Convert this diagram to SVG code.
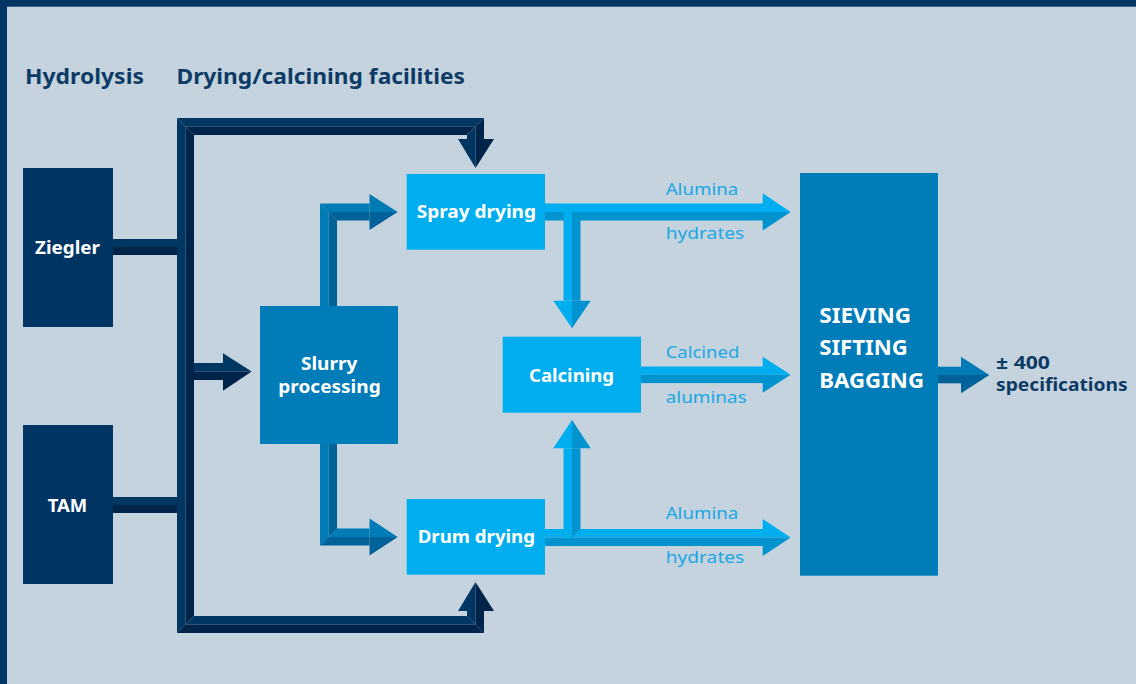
<svg xmlns="http://www.w3.org/2000/svg" width="1136" height="684" viewBox="0 0 1136 684">
<style>
.bg{fill:#c5d3de}
.frame{fill:#003462}
.nl{fill:#003662}.nd{fill:#00234a}
.ml{fill:#007bb6}.md{fill:#006298}
.ll{fill:#00aeef}.ld{fill:#0093cf}
.navy{fill:#003462}.mid{fill:#007cb8}.light{fill:#00aeef}
.title{font-family:"Noto Sans","Open Sans",sans-serif;font-weight:700;font-size:21px;fill:#0d3b66}
.wt{font-family:"Noto Sans","Open Sans",sans-serif;font-weight:700;font-size:18px;fill:#ffffff}
.big{font-family:"Noto Sans","Open Sans",sans-serif;font-weight:700;font-size:22px;fill:#ffffff}
.lbl{font-family:"Noto Sans","Open Sans",sans-serif;font-weight:400;font-size:17px;fill:#1aa8e6}
.out{font-family:"Noto Sans","Open Sans",sans-serif;font-weight:700;font-size:17px;fill:#0d3b66}
</style>
<rect class="bg" x="0" y="0" width="1136" height="684"/>
<rect class="frame" x="0" y="0" width="1136" height="6"/>
<rect x="0" y="6" width="1136" height="1" fill="#3d6285"/>
<rect class="frame" x="0" y="0" width="7" height="684"/>

<g id="headings">
<text class="title" x="25" y="84" textLength="119" lengthAdjust="spacingAndGlyphs">Hydrolysis</text>
<text class="title" x="176.5" y="84" textLength="288.5" lengthAdjust="spacingAndGlyphs">Drying/calcining facilities</text>
</g>

<g id="connectors">
<!-- navy bus -->
<rect class="nl" x="113" y="239" width="64" height="8"/>
<rect class="nd" x="113" y="247" width="64" height="8"/>
<rect class="nl" x="113" y="497" width="64" height="8"/>
<rect class="nd" x="113" y="505" width="64" height="8"/>
<polygon class="nl" points="177,118 484,118 475.5,126.5 185.5,126.5"/>
<polygon class="nd" points="185.5,126.5 475.5,126.5 467,135 194,135"/>
<polygon class="nl" points="177,118 185.5,126.5 185.5,624.5 177,633"/>
<polygon class="nd" points="185.5,126.5 194,135 194,616 185.5,624.5"/>
<polygon class="nl" points="194,616 467,616 475.5,624.5 185.5,624.5"/>
<polygon class="nd" points="185.5,624.5 475.5,624.5 484,633 177,633"/>
<polygon class="nl" points="467,135 475.5,126.5 475.5,139 467,139"/>
<polygon class="nd" points="475.5,126.5 484,118 484,139 475.5,139"/>
<polygon class="nl" points="458,139 475.5,139 475.5,168"/>
<polygon class="nd" points="475.5,139 494,139 475.5,168"/>
<polygon class="nl" points="467,611 475.5,611 475.5,624.5 467,616"/>
<polygon class="nd" points="475.5,611 484,611 484,633 475.5,624.5"/>
<polygon class="nl" points="458,611 475.5,611 475.5,582"/>
<polygon class="nd" points="475.5,611 494,611 475.5,582"/>
<rect class="nl" x="194" y="363" width="29" height="8.5"/>
<rect class="nd" x="194" y="371.5" width="29" height="8.5"/>
<polygon class="nl" points="223,353.3 251.7,371.5 223,371.5"/>
<polygon class="nd" points="223,371.5 251.7,371.5 223,390.7"/>
<!-- slurry to spray -->
<polygon class="ml" points="320,203.5 328.5,212 328.5,306 320,306"/>
<polygon class="md" points="328.5,212 337,220.5 337,306 328.5,306"/>
<polygon class="ml" points="320,203.5 369.5,203.5 369.5,212 328.5,212"/>
<polygon class="md" points="328.5,212 369.5,212 369.5,220.5 337,220.5"/>
<polygon class="ml" points="369.5,194 397.7,212 369.5,212"/>
<polygon class="md" points="369.5,212 397.7,212 369.5,230"/>
<!-- slurry to drum -->
<polygon class="ml" points="320,444 328.5,444 328.5,537 320,545.5"/>
<polygon class="md" points="328.5,444 337,444 337,528.5 328.5,537"/>
<polygon class="ml" points="337,528.5 369.5,528.5 369.5,537 328.5,537"/>
<polygon class="md" points="328.5,537 369.5,537 369.5,545.5 320,545.5"/>
<polygon class="ml" points="369.5,518.5 397.7,537 369.5,537"/>
<polygon class="md" points="369.5,537 397.7,537 369.5,555.5"/>
<!-- spray out -->
<rect class="ll" x="545" y="203.5" width="218" height="8.5"/>
<rect class="ld" x="545" y="212" width="218" height="8.5"/>
<polygon class="ll" points="762.7,193.3 790.7,212 762.7,212"/>
<polygon class="ld" points="762.7,212 790.7,212 762.7,230.5"/>
<rect class="ll" x="563.5" y="212" width="8.5" height="88.7"/>
<polygon class="ld" points="572,212 580.5,220.5 580.5,300.7 572,300.7"/>
<polygon class="ll" points="553.3,300.7 572,300.7 572,328.3"/>
<polygon class="ld" points="572,300.7 590.7,300.7 572,328.3"/>
<!-- calcining out -->
<rect class="ll" x="641" y="366.5" width="122" height="8.3"/>
<rect class="ld" x="641" y="374.8" width="122" height="8.3"/>
<polygon class="ll" points="762.7,356.7 790.7,374.8 762.7,374.8"/>
<polygon class="ld" points="762.7,374.8 790.7,374.8 762.7,392.8"/>
<!-- drum out -->
<rect class="ll" x="545" y="529" width="218" height="8.5"/>
<rect class="ld" x="545" y="537.5" width="218" height="8.5"/>
<polygon class="ll" points="762.7,519 790.7,537.5 762.7,537.5"/>
<polygon class="ld" points="762.7,537.5 790.7,537.5 762.7,556"/>
<rect class="ll" x="563.5" y="448.3" width="8.5" height="89.2"/>
<polygon class="ld" points="572,448.3 580.5,448.3 580.5,529 572,537.5"/>
<polygon class="ll" points="553.3,448.3 572,448.3 572,420"/>
<polygon class="ld" points="572,448.3 590.7,448.3 572,420"/>
<!-- sieving out -->
<rect class="ml" x="938" y="366.7" width="23" height="8.3"/>
<rect class="md" x="938" y="375" width="23" height="8.3"/>
<polygon class="ml" points="961,356.7 989.3,375 961,375"/>
<polygon class="md" points="961,375 989.3,375 961,393.3"/>
</g>

<g id="labels">
<text class="lbl" x="665.7" y="195" textLength="72.6" lengthAdjust="spacingAndGlyphs">Alumina</text>
<text class="lbl" x="665.7" y="239" textLength="78.6" lengthAdjust="spacingAndGlyphs">hydrates</text>
<text class="lbl" x="665.7" y="358" textLength="73.6" lengthAdjust="spacingAndGlyphs">Calcined</text>
<text class="lbl" x="665.7" y="403" textLength="81" lengthAdjust="spacingAndGlyphs">aluminas</text>
<text class="lbl" x="665.7" y="519" textLength="72.6" lengthAdjust="spacingAndGlyphs">Alumina</text>
<text class="lbl" x="665.7" y="562.5" textLength="78.6" lengthAdjust="spacingAndGlyphs">hydrates</text>
</g>

<g id="ziegler">
<rect class="navy" x="23" y="168" width="90" height="159"/>
<text class="wt" x="35" y="254" textLength="65" lengthAdjust="spacingAndGlyphs">Ziegler</text>
</g>
<g id="tam">
<rect class="navy" x="23" y="425" width="90" height="159"/>
<text class="wt" x="47.7" y="512.3" textLength="39.6" lengthAdjust="spacingAndGlyphs">TAM</text>
</g>
<g id="slurry">
<rect class="mid" x="260" y="306" width="138" height="138"/>
<text class="wt" x="301" y="370" textLength="56.3" lengthAdjust="spacingAndGlyphs">Slurry</text>
<text class="wt" x="278.3" y="392.5" textLength="102.4" lengthAdjust="spacingAndGlyphs">processing</text>
</g>
<g id="spray">
<rect class="light" x="406.7" y="174" width="138.3" height="75.7"/>
<text class="wt" x="416.7" y="218.3" textLength="119.3" lengthAdjust="spacingAndGlyphs">Spray drying</text>
</g>
<g id="drum">
<rect class="light" x="406.7" y="499" width="138.3" height="75.7"/>
<text class="wt" x="417.7" y="543.3" textLength="117.3" lengthAdjust="spacingAndGlyphs">Drum drying</text>
</g>
<g id="calcining">
<rect class="light" x="502.7" y="336.7" width="138.3" height="76"/>
<text class="wt" x="529" y="381.7" textLength="85" lengthAdjust="spacingAndGlyphs">Calcining</text>
</g>
<g id="sieving">
<rect class="mid" x="800" y="173" width="138" height="402.7"/>
<text class="big" x="819.3" y="322.7" textLength="91.7" lengthAdjust="spacingAndGlyphs">SIEVING</text>
<text class="big" x="819.3" y="355" textLength="88.4" lengthAdjust="spacingAndGlyphs">SIFTING</text>
<text class="big" x="819.3" y="387.7" textLength="104.7" lengthAdjust="spacingAndGlyphs">BAGGING</text>
</g>
<g id="specifications">
<text class="out" x="996" y="369.3" textLength="54" lengthAdjust="spacingAndGlyphs">± 400</text>
<text class="out" x="996" y="390.7" textLength="131.7" lengthAdjust="spacingAndGlyphs">specifications</text>
</g>
</svg>
